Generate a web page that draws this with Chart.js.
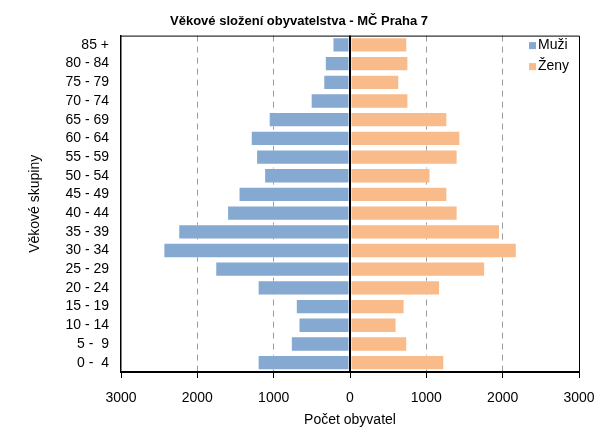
<!DOCTYPE html>
<html>
<head>
<meta charset="utf-8">
<script src="https://cdn.jsdelivr.net/npm/chart.js@4.4.1/dist/chart.umd.min.js"></script>
<style>
  html, body { margin: 0; padding: 0; background: #fff; }
  #wrap { width: 598px; height: 430px; }
</style>
</head>
<body>
<div id="wrap"><canvas id="pyramid"></canvas></div>
<script>
// age groups, from youngest (bottom) to oldest (top)
const ageGroups = ['0 -  4', '5 -  9', '10 - 14', '15 - 19', '20 - 24', '25 - 29', '30 - 34', '35 - 39',
    '40 - 44', '45 - 49', '50 - 54', '55 - 59', '60 - 64', '65 - 69', '70 - 74', '75 - 79', '80 - 84', '85 +'];
const muzi = [1210, 775, 675, 710, 1210, 1765, 2445, 2250, 1610, 1460, 1125, 1230, 1300, 1065, 515, 350, 330, 230];
const zeny = [1235, 750, 610, 715, 1180, 1770, 2185, 1965, 1410, 1275, 1055, 1410, 1445, 1275, 765, 645, 765, 750];
const xTicks = [-3000, -2000, -1000, 0, 1000, 2000, 3000];

const font = 'Liberation Sans, Arial, sans-serif';

// frame, zero line and legend drawn on top of the chart area
const extras = {
    id: 'extras',
    afterDatasetsDraw(chart) {
        const c = chart.ctx;
        const a = chart.chartArea;
        const x = chart.scales.x;
        c.save();
        c.strokeStyle = '#000';
        c.lineWidth = 1;
        c.beginPath();
        c.moveTo(a.left, a.top + 0.5);
        c.lineTo(a.right + 0.5, a.top + 0.5);
        c.lineTo(a.right + 0.5, a.bottom);
        c.stroke();
        const x0 = Math.round(x.getPixelForValue(0));
        c.lineWidth = 2;
        c.beginPath();
        c.moveTo(x0, a.top);
        c.lineTo(x0, a.bottom);
        c.stroke();
        // legend
        c.font = '14px ' + font;
        c.textBaseline = 'middle';
        chart.data.datasets.forEach((ds, i) => {
            const ly = a.top + 10 + i * 21;
            c.fillStyle = ds.backgroundColor;
            c.fillRect(a.right - 50, ly - 3.5, 7, 7);
            c.fillStyle = '#000';
            c.fillText(ds.label, a.right - 41, ly);
        });
        c.restore();
    }
};

new Chart(document.getElementById('pyramid'), {
    type: 'bar',
    data: {
        labels: ageGroups,
        datasets: [
            {
                label: 'Muži',
                data: muzi.map(v => -v),
                backgroundColor: '#85a9d0',
                borderColor: 'rgba(255,255,255,0.5)',
                borderWidth: 1,
                borderSkipped: false,
                barPercentage: 0.82,
                categoryPercentage: 1
            },
            {
                label: 'Ženy',
                data: zeny,
                backgroundColor: '#f9bb8a',
                borderColor: 'rgba(255,255,255,0.5)',
                borderWidth: 1,
                borderSkipped: false,
                barPercentage: 0.82,
                categoryPercentage: 1
            }
        ]
    },
    options: {
        indexAxis: 'y',
        responsive: true,
        maintainAspectRatio: false,
        animation: false,
        layout: { padding: 0 },
        plugins: {
            legend: { display: false },
            tooltip: { enabled: false },
            title: {
                display: true,
                text: 'Věkové složení obyvatelstva - MČ Praha 7',
                color: '#000',
                font: { family: font, size: 13, weight: 'bold' },
                padding: { top: 14, bottom: 6 }
            }
        },
        scales: {
            x: {
                stacked: true,
                min: -3000,
                max: 3000,
                afterBuildTicks(scale) {
                    scale.ticks = xTicks.map(v => ({ value: v }));
                },
                afterFit(scale) {
                    scale.height = 58;
                    scale.paddingLeft = 0;
                    scale.paddingRight = 19;
                },
                ticks: {
                    color: '#000',
                    font: { family: font, size: 14 },
                    padding: 12,
                    maxRotation: 0,
                    callback: v => Math.abs(v)
                },
                grid: {
                    color: ctx => (Math.abs(ctx.tick.value) === 1000 || Math.abs(ctx.tick.value) === 2000) ? '#9a9a9a' : 'rgba(0,0,0,0)',
                    lineWidth: 1,
                    tickColor: '#000',
                    tickLength: 6,
                    tickBorderDash: []
                },
                border: { display: true, color: '#000', width: 2, dash: [6, 5] },
                title: {
                    display: true,
                    text: 'Počet obyvatel',
                    color: '#000',
                    font: { family: font, size: 14 },
                    padding: { top: 4, bottom: 1 }
                }
            },
            y: {
                stacked: true,
                reverse: true,
                afterFit(scale) {
                    scale.width = 121;
                    scale.paddingTop = 0;
                    scale.paddingBottom = 0;
                },
                ticks: {
                    color: '#000',
                    font: { family: font, size: 14 },
                    padding: 12,
                    autoSkip: false
                },
                grid: { display: false, drawTicks: false },
                border: { display: true, color: '#000', width: 1.5 },
                title: {
                    display: true,
                    text: 'Věkové skupiny',
                    color: '#000',
                    font: { family: font, size: 14 },
                    padding: { top: 27, bottom: 4 }
                }
            }
        }
    },
    plugins: [extras]
});
</script>
</body>
</html>
